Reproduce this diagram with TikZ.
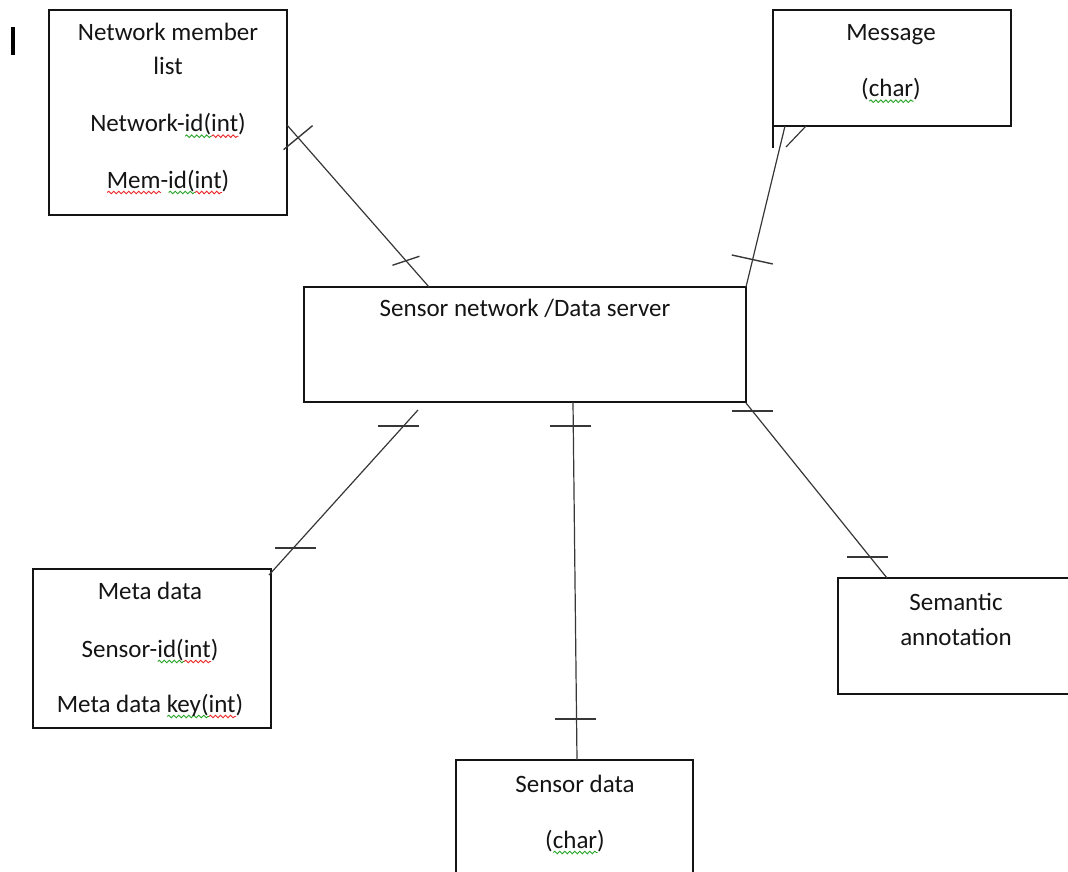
\documentclass[tikz,border=0pt]{standalone}
\usepackage{fontspec}
\setmainfont{Carlito}
\usetikzlibrary{calc,decorations.pathmorphing}
\definecolor{ink}{RGB}{20,20,20}
\definecolor{sqred}{RGB}{235,40,40}
\definecolor{sqgreen}{RGB}{40,165,40}
% spell-check style wavy underline beneath a word
\newsavebox\sqbox
\newcommand\sq[2]{\sbox\sqbox{#2}\rlap{\tikz[baseline=0pt]\draw[#1, line width=0.9pt, decorate,
  decoration={snake, amplitude=1.3pt, segment length=5pt}] (0pt,-4.5pt) -- (\the\wd\sqbox,-4.5pt);}\usebox\sqbox}
\begin{document}
\begin{tikzpicture}[x=1pt,y=-1pt,
  box/.style={draw=ink, line width=1.6pt, inner sep=0pt, outer sep=0pt, anchor=north west},
  lbl/.style={font=\fontsize{25}{29}\selectfont, text=ink, inner sep=0pt, anchor=base},
  conn/.style={draw=ink!85, line width=1.2pt},
  tickmark/.style={draw=ink!85, line width=1.4pt}]
\path[use as bounding box] (0,0) rectangle (1068,872);
\clip (0,0) rectangle (1068,872);

% text caret
\node[fill=black, minimum width=4pt, minimum height=28pt, inner sep=0pt] (caret) at (13,41) {};

% entity boxes
\node[box, minimum width=238pt, minimum height=205pt] (nml) at (49,10) {};
\node[box, minimum width=238pt, minimum height=116pt] (msg) at (773,10) {};
\node[box, minimum width=442pt, minimum height=115pt] (srv) at (304,287) {};
\node[box, minimum width=238pt, minimum height=159pt] (meta) at (33,569) {};
\node[box, minimum width=240pt, minimum height=116pt] (sem) at (838,578) {};
\node[box, minimum width=237pt, minimum height=130pt] (sdata) at (456,760) {};

% labels
\node[lbl] (nml1) at (168,40.7) {Network member};
\node[lbl] (nml2) at (168,75) {list};
\node[lbl] (nml3) at (168,131.7) {Network-\sq{sqgreen}{id(}\sq{sqred}{int})};
\node[lbl] (nml4) at (168,188) {\sq{sqred}{Mem}-\sq{sqgreen}{id(}\sq{sqred}{int})};
\node[lbl] (msg1) at (891,40.7) {Message};
\node[lbl] (msg2) at (891,96.7) {(\sq{sqgreen}{char})};
\node[lbl] (srv1) at (525,316.7) {Sensor network /Data server};
\node[lbl] (meta1) at (150,599) {Meta data};
\node[lbl] (meta2) at (150,657) {Sensor-\sq{sqgreen}{id(}\sq{sqred}{int})};
\node[lbl] (meta3) at (150,712) {Meta data \sq{sqgreen}{key(}\sq{sqred}{int})};
\node[lbl] (sem1) at (956,610) {Semantic};
\node[lbl] (sem2) at (956,645) {annotation};
\node[lbl] (sd1) at (575,792) {Sensor data};
\node[lbl] (sd2) at (575,848) {(\sq{sqgreen}{char})};

% relationships
\draw[conn] ([shift={(0,115)}]nml.north east) -- ([shift={(125,0)}]srv.north west)
  coordinate[pos=0.078] (k1a) coordinate[pos=0.838] (k1b);
\draw[conn] ([shift={(12,0)}]msg.south west) -- (srv.north east)
  coordinate[pos=0.826] (k2a);
\draw[conn] ([shift={(114,8)}]srv.south west) -- ([shift={(-2,6)}]meta.north east)
  coordinate[pos=0.097] (k3a) coordinate[pos=0.836] (k3b);
\draw[conn] ([shift={(269,0)}]srv.south west) -- ([shift={(121,0)}]sdata.north west)
  coordinate[pos=0.067] (k4a) coordinate[pos=0.885] (k4b);
\draw[conn] ([shift={(0,1)}]srv.south east) -- ([shift={(49,0)}]sem.north west)
  coordinate[pos=0.046] (k5a) coordinate[pos=0.88] (k5b);

% cardinality bars
\draw[tickmark] ([shift={(-14.5,12)}]k1a) -- ([shift={(14.5,-12)}]k1a);
\draw[tickmark] ([shift={(-13.5,4.5)}]k1b) -- ([shift={(13.5,-4.5)}]k1b);
\draw[tickmark] ([shift={(-21,-4)}]k2a) -- ([shift={(20,5)}]k2a);
\draw[tickmark] ([shift={(-25.5,0)}]k3a) -- ([shift={(15.5,0)}]k3a);
\draw[tickmark] ([shift={(-18,0)}]k3b) -- ([shift={(23,0)}]k3b);
\draw[tickmark] ([shift={(-23,0)}]k4a) -- ([shift={(18,0)}]k4a);
\draw[tickmark] ([shift={(-21.5,0)}]k4b) -- ([shift={(19.5,0)}]k4b);
\draw[tickmark] ([shift={(-20,0)}]k5a) -- ([shift={(21,0)}]k5a);
\draw[tickmark] ([shift={(-23,0)}]k5b) -- ([shift={(18,0)}]k5b);

% marks under the message box
\draw[draw=ink, line width=1.6pt] (msg.south west) -- ([shift={(0,22)}]msg.south west);
\draw[conn] ([shift={(33,0)}]msg.south west) -- ([shift={(13,21)}]msg.south west);
\end{tikzpicture}
\end{document}
